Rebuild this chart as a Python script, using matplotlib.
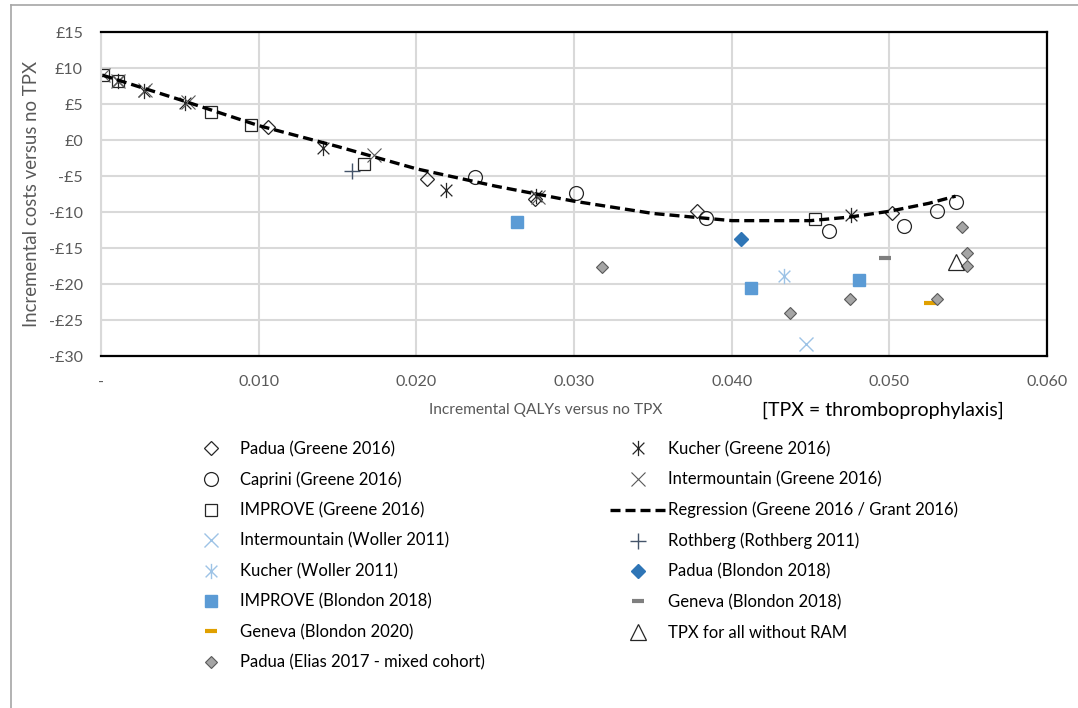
import matplotlib.pyplot as plt
from matplotlib.path import Path
from matplotlib.lines import Line2D

plt.rcParams['font.family'] = ['Lato', 'DejaVu Sans']

# Greene 2016
padua_g_x = [0.0106, 0.0207, 0.0275, 0.0378, 0.0502]
padua_g_y = [1.8, -5.4, -8.2, -9.9, -10.1]
caprini_x = [0.0237, 0.0301, 0.0384, 0.0462, 0.0509, 0.0530, 0.0542]
caprini_y = [-5.1, -7.4, -10.8, -12.6, -12.0, -9.9, -8.6]
improve_g_x = [0.0001, 0.0011, 0.0070, 0.0095, 0.0167, 0.0453]
improve_g_y = [9.0, 8.2, 3.9, 2.1, -3.3, -11.0]
kucher_g_x = [0.0011, 0.0027, 0.0053, 0.0141, 0.0219, 0.0276, 0.0476]
kucher_g_y = [8.2, 6.8, 5.1, -1.1, -6.9, -7.8, -10.4]
interm_g_x = [0.0001, 0.0011, 0.0028, 0.0055, 0.0173, 0.0277]
interm_g_y = [9.0, 8.2, 7.0, 5.3, -2.1, -7.9]

# regression line
reg_x = [0.0001, 0.005, 0.010, 0.015, 0.020, 0.025, 0.030, 0.035, 0.040, 0.045, 0.0475, 0.050, 0.0525, 0.0542]
reg_y = [9.0, 5.6, 2.0, -0.9, -4.0, -6.4, -8.5, -10.2, -11.2, -11.2, -10.7, -9.9, -8.8, -7.8]

# other studies
interm_w_x = [0.0447]
interm_w_y = [-28.3]
kucher_w_x = [0.0433]
kucher_w_y = [-18.9]
rothberg_x = [0.0159]
rothberg_y = [-4.3]
padua_b_x = [0.0406]
padua_b_y = [-13.75]
improve_b_x = [0.0264, 0.0412, 0.0481]
improve_b_y = [-11.4, -20.6, -19.4]
geneva18_x = [0.0497]
geneva18_y = [-16.4]
geneva20_x = [0.0526]
geneva20_y = [-22.6]
tpx_x = [0.0542]
tpx_y = [-17.0]
elias_x = [0.0318, 0.0437, 0.0475, 0.0530, 0.0546, 0.0549, 0.0549]
elias_y = [-17.6, -24.0, -22.1, -22.1, -12.1, -15.7, -17.5]

xticks = [0, 0.01, 0.02, 0.03, 0.04, 0.05, 0.06]
xticklabels = ['-', '0.010', '0.020', '0.030', '0.040', '0.050', '0.060']
yticks = [15, 10, 5, 0, -5, -10, -15, -20, -25, -30]
yticklabels = ['£15', '£10', '£5', '£0', '-£5', '-£10', '-£15', '-£20', '-£25', '-£30']

star = Path([(-1, -1), (1, 1), (-1, 1), (1, -1), (0, -1.3), (0, 1.3)],
            [Path.MOVETO, Path.LINETO, Path.MOVETO, Path.LINETO, Path.MOVETO, Path.LINETO])

fig = plt.figure(figsize=(10.78, 7.08), dpi=100)
ax = fig.add_axes([101/1078, 1-356/708, 946/1078, 324/708])

dark = '#262626'
mid = '#595959'
h = []
h += ax.plot(padua_g_x, padua_g_y, ls='none', marker='D', ms=7, mfc='none', mec=dark, mew=0.9, label='Padua (Greene 2016)')
h += ax.plot(caprini_x, caprini_y, ls='none', marker='o', ms=10, mfc='none', mec=dark, mew=0.9, label='Caprini (Greene 2016)')
h += ax.plot(improve_g_x, improve_g_y, ls='none', marker='s', ms=8.5, mfc='none', mec=dark, mew=0.9, label='IMPROVE (Greene 2016)')
h += ax.plot(interm_w_x, interm_w_y, ls='none', marker='x', ms=10, mec='#9DC3E6', mew=1, label='Intermountain (Woller 2011)')
h += ax.plot(kucher_w_x, kucher_w_y, ls='none', marker=star, ms=11, mfc='none', mec='#9DC3E6', mew=1, label='Kucher (Woller 2011)')
h += ax.plot(improve_b_x, improve_b_y, ls='none', marker='s', ms=8, mfc='#5B9BD5', mec='#5B9BD5', label='IMPROVE (Blondon 2018)')
h += ax.plot(geneva20_x, geneva20_y, ls='none', marker='_', ms=9, mec='#E0A000', mew=3, label='Geneva (Blondon 2020)')
h += ax.plot(elias_x, elias_y, ls='none', marker='D', ms=6.5, mfc='#A5A5A5', mec='#595959', mew=0.8, label='Padua (Elias 2017 - mixed cohort)')
h += ax.plot(kucher_g_x, kucher_g_y, ls='none', marker=star, ms=11, mfc='none', mec=dark, mew=0.9, label='Kucher (Greene 2016)')
h += ax.plot(interm_g_x, interm_g_y, ls='none', marker='x', ms=10, mec=mid, mew=0.8, label='Intermountain (Greene 2016)')
h += ax.plot(reg_x, reg_y, color='black', lw=2.4, ls=(0, (3, 1.5)), zorder=4, label='Regression (Greene 2016 / Grant 2016)')
h += ax.plot(rothberg_x, rothberg_y, ls='none', marker='+', ms=11, mec='#44546A', mew=1, label='Rothberg (Rothberg 2011)')
h += ax.plot(padua_b_x, padua_b_y, ls='none', marker='D', ms=7, mfc='#2E75B6', mec='#2E75B6', label='Padua (Blondon 2018)')
h += ax.plot(geneva18_x, geneva18_y, ls='none', marker='_', ms=9, mec='#7F7F7F', mew=3, label='Geneva (Blondon 2018)')
h += ax.plot(tpx_x, tpx_y, ls='none', marker='^', ms=11, mfc='none', mec=dark, mew=0.9, label='TPX for all without RAM')

ax.set_xlim(0, 0.06)
ax.set_ylim(-30, 15)
ax.set_xticks(xticks)
ax.set_xticklabels(xticklabels)
ax.set_yticks(yticks)
ax.set_yticklabels(yticklabels)
ax.tick_params(length=0, labelsize=11.5, labelcolor=mid)
ax.tick_params(axis='x', pad=14)
ax.tick_params(axis='y', pad=13)
ax.grid(color='#D9D9D9', lw=1.5)
ax.set_axisbelow(True)
for s in ['top', 'bottom', 'right']:
    ax.spines[s].set_color('black')
    ax.spines[s].set_linewidth(1.6)
ax.spines['left'].set_color('#D9D9D9')
ax.spines['left'].set_linewidth(1.5)

ax.set_ylabel('Incremental costs versus no TPX', fontsize=13.4, color=mid, labelpad=6)
fig.text(546/1078, 1-410/708, 'Incremental QALYs versus no TPX', fontsize=11.2, color=mid, ha='center', va='center')
fig.text(762/1078, 1-410/708, '[TPX = thromboprophylaxis]', fontsize=14, color='black', ha='left', va='center')

kw = dict(loc='upper left', frameon=False, fontsize=12, handlelength=3.3, handletextpad=0.15,
          labelspacing=0.86, borderaxespad=0, borderpad=0)
fig.legend(handles=h[:8], bbox_to_anchor=(183/1078, 1-441/708), **kw)
fig.legend(handles=h[8:], bbox_to_anchor=(610/1078, 1-441/708), **kw)

# outer chart border
fig.add_artist(Line2D([11/1078, 1], [1-5/708, 1-5/708], color='#A6A6A6', lw=1.2))
fig.add_artist(Line2D([11/1078, 11/1078], [0, 1-5/708], color='#A6A6A6', lw=1.2))

fig.savefig('out.png', dpi=100)
